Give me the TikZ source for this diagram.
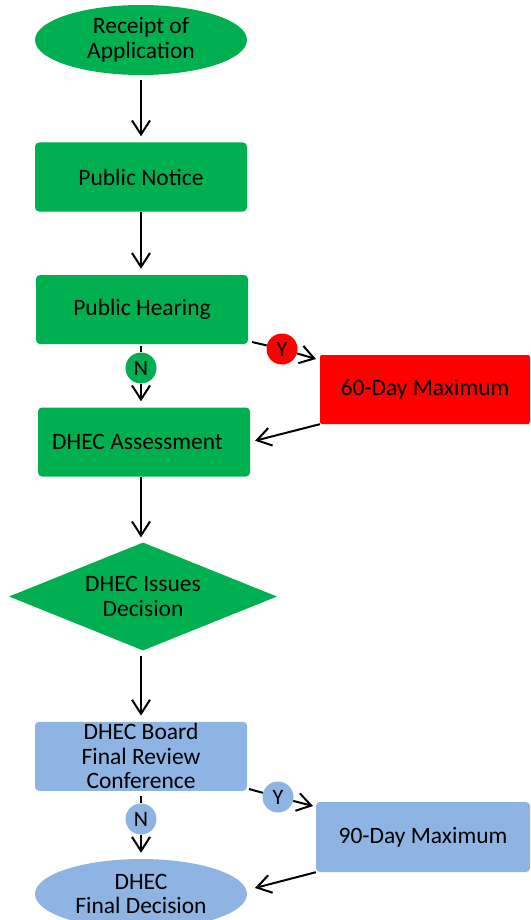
\documentclass[tikz,border=0pt]{standalone}
\usepackage{fontspec}
\setmainfont{Carlito}
\usetikzlibrary{shapes.geometric,arrows.meta}
\definecolor{gr}{HTML}{00B050}
\definecolor{rd}{HTML}{FF0000}
\definecolor{bl}{HTML}{8EB4E3}
\begin{document}
\begin{tikzpicture}[x=1pt,y=-1pt,
 base/.style={inner sep=0pt,align=center,font=\fontsize{23.5}{24.5}\selectfont},
 term/.style={base,ellipse,minimum width=212pt,minimum height=70pt},
 proc/.style={base,rectangle,rounded corners=4pt,minimum width=212pt,minimum height=69pt},
 dec/.style={base,diamond,aspect=2.5,minimum width=268pt,minimum height=108pt},
 tag/.style={circle,minimum size=31pt,inner sep=0pt,font=\fontsize{22}{22}\selectfont},
 conn/.style={line width=2pt},
 arr/.style={conn,-{Straight Barb[length=14pt,width=18pt,line width=2pt]}}]
\useasboundingbox (0,0) rectangle (530,920);
\clip (0,0) rectangle (530,920);

\node[term,fill=gr] (rec) at (141,40) {Receipt of\\Application};
\node[proc,fill=gr] (pn) at (141,177) {Public Notice};
\node[proc,fill=gr] (ph) at (142,309.5) {Public Hearing};
\node[tag,fill=gr] (n1) at (141,368) {N};
\node[proc,fill=gr] (da) at (144,442) {DHEC Assessment\hspace{13pt}};
\node[proc,fill=rd,rounded corners=2pt,minimum width=210pt] (sixty) at (425,389.5) {60-Day Maximum};
\node[tag,fill=rd] (y1) at (282,349) {Y};
\node[dec,fill=gr] (dd) at (143,596.5) {DHEC Issues\\Decision};
\node[proc,fill=bl] (bd) at (141,756.3) {DHEC Board\\Final Review\\Conference};
\node[tag,fill=bl] (n2) at (141,819) {N};
\node[proc,fill=bl,minimum width=214pt,minimum height=70pt] (ninety) at (423,837) {90-Day Maximum};
\node[tag,fill=bl] (y2) at (278,797) {Y};
\node[term,fill=bl] (fd) at (141,894) {DHEC\\Final Decision};

\coordinate (ys1) at (252,342);
\coordinate (ye1) at (316,359);
\coordinate (ys2) at (249,789);
\coordinate (ye2) at (313,806);
\coordinate (ye3) at (255,888);

\draw[arr,shorten <=5pt,shorten >=6pt] (rec.south) -- (pn.north);
\draw[arr,shorten >=6pt] (pn.south) -- (pn.south |- ph.north);
\draw[conn,shorten <=2pt] (ph.south -| n1) -- (n1);
\draw[arr,shorten >=6pt] (n1) -- (n1 |- da.north);
\draw[conn] (ys1) -- (y1);
\draw[arr] (y1) -- (ye1);
\draw[arr,shorten >=5pt] (sixty.south west) -- (da.east);
\draw[arr,shorten >=5pt] (da.south -| n1) -- (n1 |- dd.north);
\draw[arr,shorten <=5pt,shorten >=6pt] (dd.south -| n1) -- (n1 |- bd.north);
\draw[conn,shorten <=5pt] (bd.south) -- (n2);
\draw[arr,shorten >=6pt] (n2) -- (fd.north);
\draw[conn] (ys2) -- (y2);
\draw[arr] (y2) -- (ye2);
\draw[arr] (ninety.south west) -- (ye3);
\end{tikzpicture}
\end{document}
